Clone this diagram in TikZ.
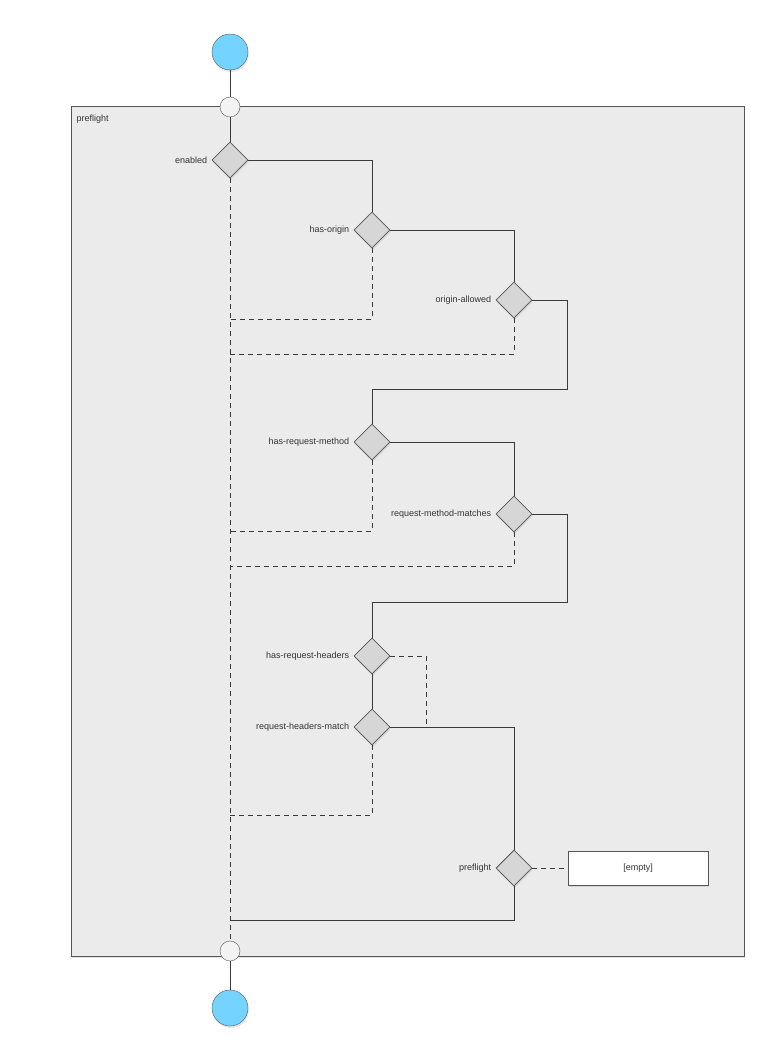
\documentclass[tikz,border=0pt]{standalone}
\usepackage{fontspec}
\setmainfont{Liberation Sans}
\usetikzlibrary{shapes.geometric,shadows}

\definecolor{startblue}{HTML}{74D3FF}
\definecolor{groupgray}{HTML}{EBEBEB}
\definecolor{diagray}{HTML}{D6D6D6}
\definecolor{edgegray}{HTML}{555555}
\definecolor{linegray}{HTML}{3A3A3A}

\tikzset{
  every node/.style={font=\fontsize{9}{11}\selectfont, text=black!80},
  shade/.style={drop shadow={opacity=0.2, shadow xshift=0.8pt, shadow yshift=-2pt}},
  terminal/.style={circle, draw=edgegray, fill=startblue, minimum size=36pt, inner sep=0pt, shade},
  port/.style={circle, draw=edgegray, fill=groupgray!60!white, minimum size=20pt, inner sep=0pt},
  decision/.style={diamond, draw=edgegray, fill=diagray, minimum width=36pt, minimum height=36pt, inner sep=0pt, line width=0.8pt, shade},
  outcome/.style={rectangle, draw=edgegray, fill=white, minimum width=140pt, minimum height=34pt, line width=0.8pt, shade},
  group/.style={rectangle, draw=edgegray, fill=groupgray, minimum width=673pt, minimum height=850pt, shade, line width=0.8pt},
  flow/.style={draw=linegray, line width=0.7pt},
  alt/.style={draw=linegray, line width=0.7pt, dash pattern=on 5pt off 4pt}
}

\begin{document}
\begin{tikzpicture}[x=1pt, y=-1pt]
        \useasboundingbox (0,0) rectangle (780,1064);
        \node[group] (frame) at (407.5,531) {};
        \node[anchor=west] (framelabel) at (73,119) {preflight};
        \node[terminal] (start) at (230,52) {};
        \node[port] (entry) at (230,107) {};
        \node[decision, label={[label distance=1pt]left:enabled}] (enabled) at (230,160) {};
        \node[decision, label={[label distance=1pt]left:has-origin}] (hasorigin) at (372,230) {};
        \node[decision, label={[label distance=1pt]left:origin-allowed}] (originallowed) at (514,300) {};
        \node[decision, label={[label distance=1pt]left:has-request-method}] (hasmethod) at (372,442) {};
        \node[decision, label={[label distance=1pt]left:request-method-matches}] (methodmatches) at (514,514) {};
        \node[decision, label={[label distance=1pt]left:has-request-headers}] (hasheaders) at (372,656) {};
        \node[decision, label={[label distance=1pt]left:request-headers-match}] (headersmatch) at (372,727) {};
        \node[decision, label={[label distance=1pt]left:preflight}] (preflight) at (514,868) {};
        \node[outcome] (empty) at (638,868) {[empty]};
        \node[port] (exit) at (230,951) {};
        \node[terminal] (stop) at (230,1008) {};
        % joints on the left rail and corners
        \coordinate (r1) at (230,319);
        \coordinate (r2) at (230,354);
        \coordinate (r3) at (230,531);
        \coordinate (r4) at (230,566);
        \coordinate (r5) at (230,815);
        \coordinate (r6) at (230,920);
        \coordinate (k1) at (567,389);
        \coordinate (k2) at (567,602);
        \coordinate (k3) at (426,727);
        \draw[flow] (start) -- (entry) -- (enabled)
        (enabled.east) -| (hasorigin.north)
        (hasorigin.east) -| (originallowed.north)
        (originallowed.east) -| (k1) -| (hasmethod.north)
        (hasmethod.east) -| (methodmatches.north)
        (methodmatches.east) -| (k2) -| (hasheaders.north)
        (hasheaders) -- (headersmatch)
        (headersmatch.east) -| (preflight.north)
        (preflight.south) |- (r6)
        (exit) -- (stop);
        \draw[alt] (enabled.south) -- (exit.north)
        (hasorigin.south) |- (r1)
        (originallowed.south) |- (r2)
        (hasmethod.south) |- (r3)
        (methodmatches.south) |- (r4)
        (headersmatch.south) |- (r5)
        (hasheaders.east) -| (k3)
        (preflight.east) -- (empty.west);
    \end{tikzpicture}
\end{document}
